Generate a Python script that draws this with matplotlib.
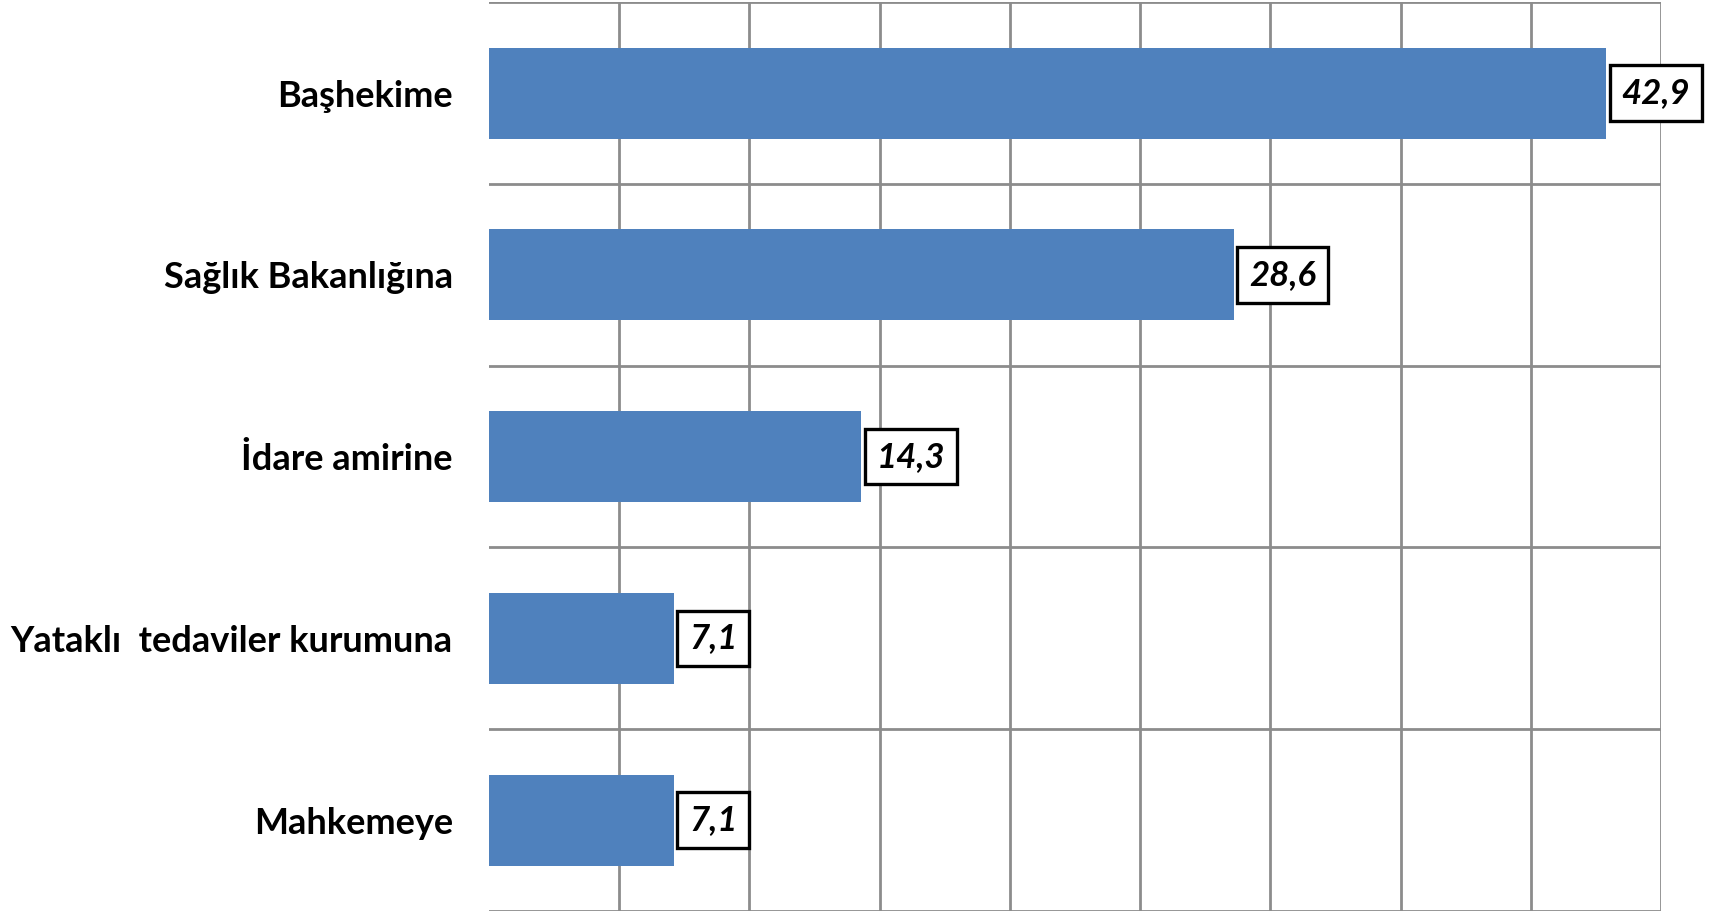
import matplotlib
matplotlib.use("Agg")
import matplotlib.pyplot as plt
from matplotlib.ticker import FixedLocator

categories = ["Başhekime", "Sağlık Bakanlığına", "İdare amirine",
              "Yataklı  tedaviler kurumuna", "Mahkemeye"]
values = [42.9, 28.6, 14.3, 7.1, 7.1]
value_labels = ["42,9", "28,6", "14,3", "7,1", "7,1"]
x_gridlines = [5, 10, 15, 20, 25, 30, 35, 40, 45]

fig = plt.figure(figsize=(17.17, 9.13), dpi=100)
ax = fig.add_axes([489/1717, 1 - 911/913, (1661 - 489)/1717, (911 - 2.2)/913])

n = len(categories)
ypos = list(range(n))
ax.barh(ypos, values, height=0.5, color="#4F81BD", zorder=3)
ax.set_xlim(0, 45)
ax.set_ylim(n - 0.5, -0.5)

ax.xaxis.set_major_locator(FixedLocator(x_gridlines))
ax.yaxis.set_minor_locator(FixedLocator([i - 0.5 for i in range(n + 1)]))
ax.set_yticks(ypos)
ax.set_yticklabels(categories, fontsize=26, fontweight="bold", family="Lato")
ax.tick_params(axis="y", which="both", length=0, pad=26)
ax.tick_params(axis="x", which="both", length=0, labelbottom=False)

ax.grid(axis="x", which="major", color="#8c8c8c", linewidth=2, zorder=0)
ax.grid(axis="y", which="minor", color="#8c8c8c", linewidth=2, zorder=0)
ax.grid(axis="y", which="major", visible=False)
for s in ax.spines.values():
    s.set_visible(False)

for y, v, lab in zip(ypos, values, value_labels):
    ax.annotate(lab, xy=(v, y), xytext=(15, 0), textcoords="offset pixels",
                ha="left", va="center", fontsize=25, fontweight="bold",
                fontstyle="italic", family="Lato", zorder=4,
                bbox=dict(boxstyle="square,pad=0.34", fc="white", ec="black", lw=2.4))

fig.savefig("out.png", dpi=100, facecolor="white")
